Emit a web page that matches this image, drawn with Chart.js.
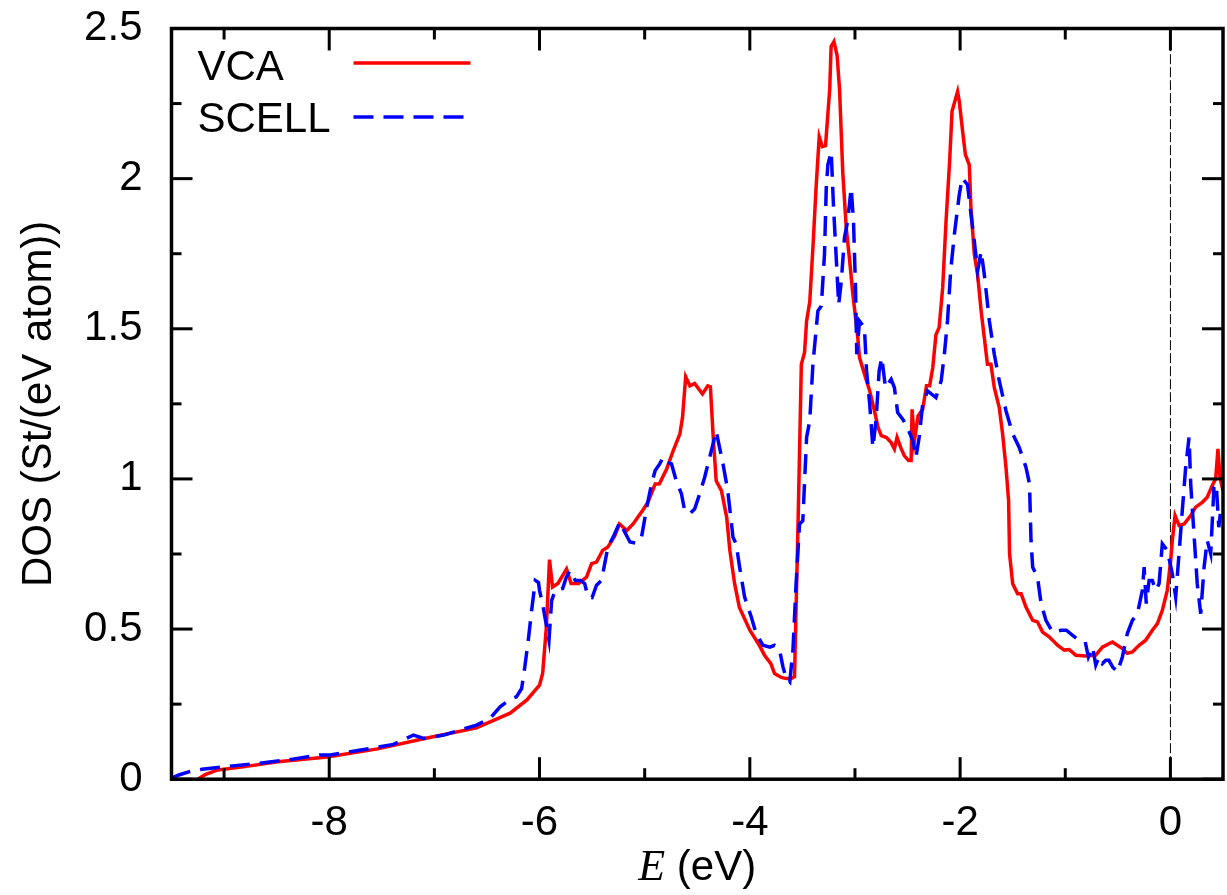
<!DOCTYPE html>
<html>
<head>
<meta charset="utf-8">
<title>DOS: VCA vs SCELL</title>
<script src="https://cdn.jsdelivr.net/npm/chart.js@4/dist/chart.umd.min.js"></script>
<style>
  html, body { margin: 0; padding: 0; background: #fff; }
  canvas { display: block; }
</style>
</head>
<body>
<canvas id="dos" width="1227" height="895"></canvas>
<script>
// Density of states, VCA calculation (energy in eV, DOS in states/(eV atom))
const vcaEnergy = [
  -9.25, -9.18, -9.06, -8.82, -8.49, -8.02, -7.54, -7.07, -6.60, -6.28,
  -6.12, -6.00, -5.97, -5.935, -5.905, -5.876, -5.825, -5.743, -5.70, -5.63,
  -5.553, -5.505, -5.458, -5.40, -5.35, -5.285, -5.24, -5.17, -5.11, -5.02,
  -4.97, -4.90, -4.86, -4.79, -4.73, -4.665, -4.64, -4.61, -4.57, -4.525,
  -4.45, -4.40, -4.375, -4.35, -4.32, -4.27, -4.22, -4.19, -4.145, -4.10,
  -4.00, -3.92, -3.86, -3.80, -3.765, -3.70, -3.653, -3.606, -3.575, -3.54,
  -3.51, -3.48, -3.46, -3.43, -3.40, -3.37, -3.34, -3.31, -3.28, -3.24,
  -3.227, -3.20, -3.17, -3.147, -3.116, -3.083, -3.05, -3.02, -2.973, -2.957,
  -2.91, -2.86, -2.815, -2.78, -2.75, -2.70, -2.656, -2.625, -2.60, -2.56,
  -2.53, -2.49, -2.466, -2.457, -2.435, -2.40, -2.356, -2.32, -2.29, -2.26,
  -2.23, -2.20, -2.166, -2.134, -2.10, -2.077, -2.024, -2.008, -1.976, -1.95,
  -1.913, -1.897, -1.865, -1.834, -1.80, -1.77, -1.74, -1.707, -1.675, -1.628,
  -1.596, -1.564, -1.539, -1.53, -1.50, -1.454, -1.42, -1.374, -1.31, -1.264,
  -1.216, -1.153, -1.074, -1.01, -0.963, -0.90, -0.804, -0.71, -0.647, -0.552,
  -0.457, -0.41, -0.362, -0.298, -0.235, -0.172, -0.124, -0.077, -0.03, 0.003,
  0.018, 0.044, 0.082, 0.13, 0.193, 0.24, 0.303, 0.35, 0.398, 0.43,
  0.452, 0.471, 0.5
];
const vcaDos = [
  0.0, 0.015, 0.031, 0.041, 0.058, 0.074, 0.101, 0.137, 0.171, 0.22,
  0.264, 0.313, 0.353, 0.506, 0.731, 0.64, 0.652, 0.70, 0.652, 0.652,
  0.673, 0.718, 0.723, 0.762, 0.773, 0.81, 0.85, 0.828, 0.85, 0.895,
  0.922, 0.983, 0.984, 1.034, 1.093, 1.15, 1.205, 1.34, 1.31, 1.318,
  1.283, 1.31, 1.307, 1.15, 0.994, 0.961, 0.872, 0.762, 0.652, 0.573,
  0.496, 0.452, 0.413, 0.385, 0.352, 0.339, 0.335, 0.335, 0.341, 0.873,
  1.382, 1.42, 1.526, 1.59, 1.77, 1.97, 2.14, 2.107, 2.11, 2.30,
  2.44, 2.456, 2.41, 2.30, 2.02, 1.836, 1.725, 1.615, 1.47, 1.404,
  1.349, 1.293, 1.227, 1.171, 1.144, 1.138, 1.121, 1.10, 1.138, 1.10,
  1.077, 1.061, 1.061, 1.232, 1.127, 1.21, 1.232, 1.31, 1.31, 1.371,
  1.48, 1.504, 1.636, 1.858, 2.057, 2.224, 2.29, 2.257, 2.157, 2.08,
  2.046, 1.902, 1.748, 1.681, 1.559, 1.47, 1.382, 1.382, 1.304, 1.238,
  1.15, 1.039, 0.928, 0.751, 0.651, 0.618, 0.618, 0.573, 0.529, 0.524,
  0.49, 0.474, 0.446, 0.43, 0.432, 0.413, 0.41, 0.413, 0.44, 0.457,
  0.435, 0.419, 0.424, 0.446, 0.463, 0.496, 0.518, 0.562, 0.629, 0.729,
  0.795, 0.878, 0.845, 0.85, 0.878, 0.906, 0.922, 0.939, 0.978, 1.0,
  1.10, 1.005, 0.96
];

// Density of states, supercell calculation
const scellEnergy = [
  -9.50, -9.43, -9.33, -9.21, -8.99, -8.67, -8.36, -8.09, -7.99, -7.70,
  -7.39, -7.20, -7.10, -6.91, -6.75, -6.60, -6.47, -6.375, -6.28, -6.22,
  -6.17, -6.14, -6.107, -6.075, -6.04, -6.01, -6.00, -5.965, -5.91, -5.885,
  -5.85, -5.78, -5.745, -5.71, -5.66, -5.61, -5.57, -5.54, -5.50, -5.458,
  -5.41, -5.38, -5.35, -5.30, -5.236, -5.19, -5.14, -5.078, -5.03, -4.98,
  -4.935, -4.90, -4.857, -4.825, -4.79, -4.745, -4.70, -4.65, -4.62, -4.57,
  -4.525, -4.477, -4.43, -4.366, -4.32, -4.288, -4.255, -4.21, -4.16, -4.13,
  -4.097, -4.05, -3.986, -3.94, -3.875, -3.81, -3.765, -3.717, -3.685, -3.653,
  -3.62, -3.59, -3.56, -3.527, -3.496, -3.46, -3.43, -3.40, -3.353, -3.32,
  -3.29, -3.273, -3.258, -3.226, -3.205, -3.18, -3.155, -3.13, -3.10, -3.07,
  -3.036, -3.014, -2.995, -2.983, -2.957, -2.91, -2.89, -2.86, -2.83, -2.80,
  -2.77, -2.745, -2.71, -2.656, -2.625, -2.594, -2.546, -2.50, -2.45, -2.42,
  -2.39, -2.356, -2.31, -2.23, -2.18, -2.15, -2.12, -2.09, -2.055, -2.008,
  -1.98, -1.93, -1.896, -1.865, -1.834, -1.80, -1.77, -1.722, -1.675, -1.628,
  -1.564, -1.50, -1.438, -1.374, -1.34, -1.326, -1.31, -1.264, -1.23, -1.184,
  -1.12, -1.04, -0.99, -0.93, -0.87, -0.81, -0.78, -0.74, -0.71, -0.68,
  -0.647, -0.615, -0.585, -0.55, -0.504, -0.457, -0.41, -0.362, -0.314, -0.267,
  -0.25, -0.23, -0.203, -0.172, -0.14, -0.108, -0.077, -0.03, 0.018, 0.05,
  0.082, 0.113, 0.145, 0.177, 0.193, 0.224, 0.255, 0.288, 0.32, 0.35,
  0.383, 0.414, 0.436, 0.46, 0.478, 0.5
];
const scellDos = [
  0.003, 0.014, 0.025, 0.033, 0.042, 0.053, 0.066, 0.081, 0.081, 0.097,
  0.116, 0.147, 0.136, 0.147, 0.164, 0.18, 0.203, 0.241, 0.266, 0.274,
  0.302, 0.374, 0.463, 0.562, 0.662, 0.655, 0.629, 0.573, 0.463, 0.595,
  0.629, 0.635, 0.673, 0.695, 0.662, 0.662, 0.651, 0.607, 0.605, 0.646,
  0.662, 0.718, 0.773, 0.806, 0.856, 0.823, 0.79, 0.786, 0.806, 0.906,
  0.983, 1.028, 1.05, 1.072, 1.055, 1.05, 0.994, 0.95, 0.895, 0.884,
  0.90, 0.95, 1.005, 1.094, 1.16, 1.105, 1.05, 0.961, 0.806, 0.784,
  0.706, 0.607, 0.54, 0.485, 0.446, 0.44, 0.446, 0.43, 0.374, 0.335,
  0.324, 0.43, 0.651, 0.85, 0.861, 1.138, 1.194, 1.382, 1.559, 1.576,
  1.748, 1.969, 2.046, 2.09, 1.913, 1.748, 1.581, 1.659, 1.803, 1.858,
  1.969, 1.858, 1.636, 1.415, 1.526, 1.504, 1.36, 1.249, 1.105, 1.194,
  1.36, 1.404, 1.304, 1.332, 1.304, 1.221, 1.199, 1.171, 1.127, 1.072,
  1.138, 1.249, 1.293, 1.271, 1.327, 1.415, 1.526, 1.692, 1.814, 1.947,
  2.002, 1.98, 1.88, 1.792, 1.692, 1.758, 1.681, 1.526, 1.415, 1.327,
  1.227, 1.15, 1.105, 1.039, 0.983, 0.796, 0.706, 0.673, 0.585, 0.529,
  0.49, 0.496, 0.496, 0.479, 0.463, 0.457, 0.407, 0.44, 0.38, 0.407,
  0.385, 0.396, 0.396, 0.374, 0.357, 0.407, 0.485, 0.529, 0.551, 0.629,
  0.706, 0.585, 0.662, 0.662, 0.629, 0.651, 0.784, 0.762, 0.684, 0.607,
  0.751, 0.895, 1.039, 1.138, 0.983, 0.817, 0.651, 0.551, 0.706, 0.795,
  0.751, 0.972, 0.983, 0.839, 0.895, 0.87
];

// Axis ticks and which of them carry labels
const xTickValues = [-9, -8, -7, -6, -5, -4, -3, -2, -1, 0];
const xLabelValues = [-8, -6, -4, -2, 0];
const yTickValues = [0, 0.25, 0.5, 0.75, 1, 1.25, 1.5, 1.75, 2, 2.25, 2.5];
const yLabelValues = [0, 0.5, 1, 1.5, 2, 2.5];
const fermiLevel = [0];

const seriesNames = ['VCA', 'SCELL'];

const toPoints = (xs, ys) => xs.map((e, i) => ({ x: e, y: ys[i] }));

const SANS = '"Liberation Sans", Arial, Helvetica, sans-serif';
const SERIF = '"Liberation Serif", "Times New Roman", serif';
const FONT_PX = 42;

// Inward tick marks on all four sides plus the closed frame
const framePlugin = {
  id: 'frame',
  afterDatasetsDraw(chart) {
    const { ctx, chartArea: a, scales: { x, y } } = chart;
    ctx.save();
    ctx.strokeStyle = '#000';
    ctx.lineCap = 'butt';
    ctx.lineWidth = 3;
    const seg = (x1, y1, x2, y2) => {
      ctx.beginPath(); ctx.moveTo(x1, y1); ctx.lineTo(x2, y2); ctx.stroke();
    };
    x.ticks.forEach(t => {
      const len = xLabelValues.includes(t.value) ? 22 : 11;
      const px = x.getPixelForValue(t.value);
      seg(px, a.bottom, px, a.bottom - len);
      seg(px, a.top, px, a.top + len);
    });
    y.ticks.forEach(t => {
      const len = yLabelValues.includes(t.value) ? 21 : 10;
      const py = y.getPixelForValue(t.value);
      seg(a.left, py, a.left + len, py);
      seg(a.right, py, a.right - len, py);
    });
    ctx.lineWidth = 3.5;
    ctx.strokeRect(a.left, a.top, a.right - a.left, a.bottom - a.top);
    ctx.restore();
  }
};

// Key in the upper-left corner: name first, line sample after it
const keyPlugin = {
  id: 'key',
  afterDatasetsDraw(chart) {
    const { ctx, chartArea: a } = chart;
    const rows = [
      { ds: chart.data.datasets[0], textY: a.top + 51.5, lineY: a.top + 34.5, len: 117 },
      { ds: chart.data.datasets[1], textY: a.top + 103.5, lineY: a.top + 88.5, len: 110 }
    ];
    ctx.save();
    ctx.font = `${FONT_PX}px ${SANS}`;
    ctx.fillStyle = '#000';
    ctx.textAlign = 'left';
    ctx.textBaseline = 'alphabetic';
    rows.forEach(r => {
      ctx.fillText(r.ds.label, a.left + 26, r.textY);
      ctx.strokeStyle = r.ds.borderColor;
      ctx.lineWidth = r.ds.borderWidth;
      ctx.setLineDash(r.ds.borderDash || []);
      ctx.beginPath();
      ctx.moveTo(a.left + 182, r.lineY);
      ctx.lineTo(a.left + 182 + r.len, r.lineY);
      ctx.stroke();
    });
    ctx.restore();
  }
};

// x-axis title: italic serif E followed by the unit
const xTitlePlugin = {
  id: 'xTitle',
  afterDraw(chart) {
    const { ctx, chartArea: a } = chart;
    ctx.save();
    ctx.fillStyle = '#000';
    ctx.textBaseline = 'alphabetic';
    const fe = `italic 44px ${SERIF}`;
    const fu = `${FONT_PX}px ${SANS}`;
    ctx.font = fe; const we = ctx.measureText('E').width;
    ctx.font = fu; const wu = ctx.measureText(' (eV)').width;
    const x0 = (a.left + a.right) / 2 - (we + wu) / 2;
    const base = a.bottom + 101;
    ctx.font = fe; ctx.textAlign = 'left'; ctx.fillText('E', x0, base);
    ctx.font = fu; ctx.fillText(' (eV)', x0 + we, base);
    ctx.restore();
  }
};

new Chart(document.getElementById('dos'), {
  type: 'line',
  data: {
    datasets: [
      {
        label: seriesNames[0],
        data: toPoints(vcaEnergy, vcaDos),
        borderColor: '#ff0000',
        borderWidth: 3.5,
        pointRadius: 0,
        tension: 0,
        fill: false,
        order: 1
      },
      {
        label: seriesNames[1],
        data: toPoints(scellEnergy, scellDos),
        borderColor: '#0000ff',
        borderWidth: 3.5,
        borderDash: [20, 10],
        pointRadius: 0,
        tension: 0,
        fill: false,
        order: 0
      },
      {
        label: 'E_F',
        data: [{ x: fermiLevel[0], y: 0 }, { x: fermiLevel[0], y: 2.5 }],
        borderColor: '#000',
        borderWidth: 1,
        borderDash: [10, 3],
        pointRadius: 0,
        fill: false,
        order: 2
      }
    ]
  },
  options: {
    responsive: false,
    animation: false,
    devicePixelRatio: 1,
    layout: { padding: { top: 28.5, right: 4, left: 0, bottom: 0 } },
    plugins: {
      legend: { display: false },
      tooltip: { enabled: false }
    },
    scales: {
      x: {
        type: 'linear',
        min: -9.5,
        max: 0.5,
        afterBuildTicks: s => { s.ticks = xTickValues.map(v => ({ value: v })); },
        afterFit: s => { s.height = 115.8; s.paddingLeft = 0; s.paddingRight = 0; },
        grid: { display: false, drawTicks: false },
        border: { display: false },
        ticks: {
          autoSkip: false,
          maxRotation: 0,
          padding: 19,
          color: '#000',
          font: { family: SANS, size: FONT_PX },
          callback: v => (xLabelValues.includes(v) ? String(v) : '')
        }
      },
      y: {
        type: 'linear',
        min: 0,
        max: 2.5,
        afterBuildTicks: s => { s.ticks = yTickValues.map(v => ({ value: v })); },
        afterFit: s => { s.width = 171.5; s.paddingTop = 0; s.paddingBottom = 0; },
        grid: { display: false, drawTicks: false },
        border: { display: false },
        ticks: {
          autoSkip: false,
          padding: 29,
          color: '#000',
          font: { family: SANS, size: FONT_PX },
          callback: v => (yLabelValues.includes(v) ? String(v) : '')
        },
        title: {
          display: true,
          text: 'DOS (St/(eV atom))',
          color: '#000',
          font: { family: SANS, size: FONT_PX },
          padding: { top: 14, bottom: 0 }
        }
      }
    }
  },
  plugins: [framePlugin, keyPlugin, xTitlePlugin]
});
</script>
</body>
</html>
